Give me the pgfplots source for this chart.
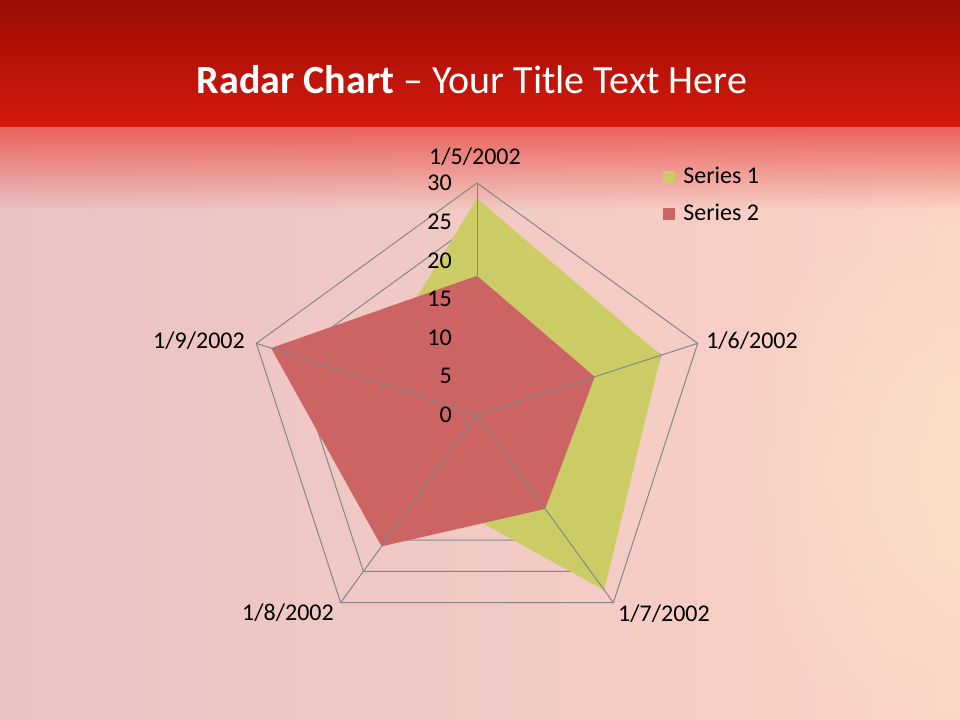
\documentclass[border=0pt]{standalone}
\usepackage{fontspec}
\setmainfont{Carlito}
\usepackage{pgfplots}
\pgfplotsset{compat=1.18}
\usepgfplotslibrary{polar}
\usetikzlibrary{fadings}

\definecolor{serA}{RGB}{204,204,102}
\definecolor{serB}{RGB}{204,100,100}
\definecolor{gridc}{RGB}{134,134,134}
\definecolor{redtop}{RGB}{154,11,5}
\definecolor{redbot}{RGB}{214,26,12}
\definecolor{pinkL}{RGB}{233,194,195}
\definecolor{pinkR}{RGB}{251,210,198}
\definecolor{peach}{RGB}{253,226,200}
\definecolor{glow}{RGB}{234,98,92}

\tikzfading[name=softspot, inner color=transparent!0, outer color=transparent!100]

\begin{document}
\begin{tikzpicture}[x=0.75pt,y=-0.75pt]
\useasboundingbox (0,0) rectangle (960,720);
% slide background
\shade[left color=pinkL, right color=pinkR] (0,127) rectangle (960,720);
\fill[peach, path fading=softspot, fill opacity=0.8] (960,470) ellipse (220 and 320);
\fill[glow, path fading=south] (0,127) rectangle (960,210);
\shade[top color=redtop, bottom color=redbot] (0,0) rectangle (960,127);

\node[anchor=base, text=white, font=\fontsize{30}{34}\selectfont] at (472,94)
  {\textbf{Radar Chart} – Your Title Text Here};

\begin{polaraxis}[
  at={(357.75pt,-311.25pt)}, anchor=center,
  scale only axis, width=348pt, height=348pt,
  ymin=0, ymax=30,
  hide axis, clip=false,
  legend style={at={(axis description cs:0.9009,0.973)}, anchor=west,
    draw=none, fill=none, inner sep=0pt, row sep=10.75pt,
    font=\fontsize{18}{20}\selectfont,
    nodes={inner sep=0pt, text height=13pt, text depth=4pt, anchor=west}},
  legend cell align=left,
  legend image code/.code={\fill[#1] (0pt,-4.5pt) rectangle (9pt,4.5pt);
    \path (0pt,0pt) -- (15pt,0pt);},
]
% rings
\pgfplotsinvokeforeach{5,10,15,20,25,30}{
  \addplot[gridc, line width=0.75pt, forget plot] coordinates
    {(90,#1) (18,#1) (-54,#1) (-126,#1) (162,#1) (90,#1)};
}
% series
\addplot[draw=none, fill=serA] coordinates
  {(90,28) (18,25) (-54,28) (-126,12) (162,15) (90,28)};
\addlegendentry{Series 1}
\addplot[draw=none, fill=serB] coordinates
  {(90,18) (18,16) (-54,15) (-126,21) (162,28) (90,18)};
\addlegendentry{Series 2}
% spokes
\pgfplotsinvokeforeach{90,18,-54,-126,162}{
  \addplot[gridc, line width=0.75pt, forget plot] coordinates {(#1,0) (#1,30)};
}
% radial tick labels
\pgfplotsinvokeforeach{0,5,10,15,20,25,30}{
  \node[anchor=east, inner sep=0pt, font=\fontsize{18}{20}\selectfont, xshift=-18.75pt]
    at (axis cs:90,#1) {#1};
}
\end{polaraxis}

\begin{scope}[font=\fontsize{18}{20}\selectfont, inner sep=0pt]
\node at (475,157) {1/5/2002};
\node[anchor=west] at (706,341) {1/6/2002};
\node at (664,614) {1/7/2002};
\node at (288,613) {1/8/2002};
\node at (199,341) {1/9/2002};
\end{scope}
\end{tikzpicture}
\end{document}
